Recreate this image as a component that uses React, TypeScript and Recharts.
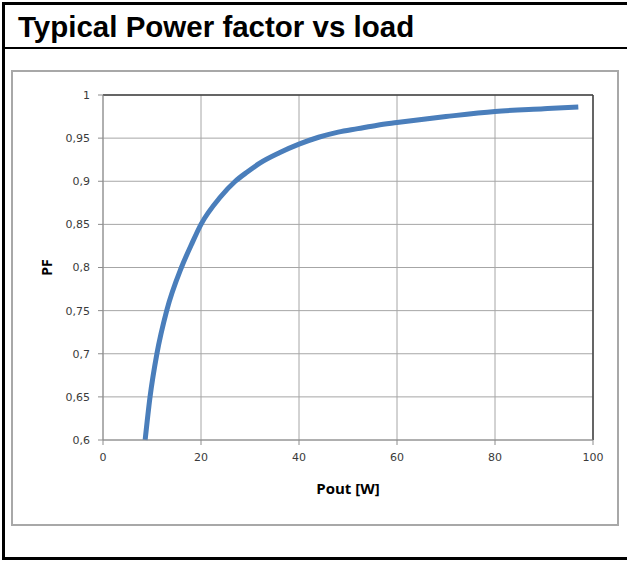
import React from 'react';
import { LineChart, Line, XAxis, YAxis, CartesianGrid, ReferenceLine, Label } from 'recharts';

const poutW = [8.6, 9.6, 11, 13, 16, 18, 20, 24, 27, 29.5, 32, 36, 40, 44, 48, 52, 56, 60, 70, 80, 90, 97];
const powerFactor = [0.6, 0.65, 0.7, 0.75, 0.8, 0.826, 0.85, 0.882, 0.9, 0.911, 0.921, 0.933, 0.943, 0.951, 0.957, 0.961, 0.965, 0.968, 0.975, 0.981, 0.984, 0.986];
const xTicks = [0, 20, 40, 60, 80, 100];
const yTicks = [0.6, 0.65, 0.7, 0.75, 0.8, 0.85, 0.9, 0.95, 1];
const titleText = 'Typical Power factor vs load';
const xLabel = 'Pout [W]';
const yLabel = 'PF';

const data = poutW.map((w, i) => ({ w, pf: powerFactor[i] }));

const fmt = (v: number) => String(Math.round(v * 100) / 100).replace('.', ',');

const tickFont = { fontFamily: 'DejaVu Sans', fontSize: 11, fill: '#3a3a3a' };

export default function App() {
  return (
    <div style={{ position: 'absolute', left: 0, top: 0, width: 627, height: 561, overflow: 'hidden', background: '#fff' }}>
      <div style={{ position: 'absolute', left: 2, top: 2, width: 660, height: 552, border: '3px solid #000' }} />
      <div style={{ position: 'absolute', left: 2, top: 47, width: 660, height: 2, background: '#000' }} />
      <div style={{ position: 'absolute', left: 18, top: 9, fontFamily: 'Liberation Sans', fontWeight: 'bold', fontSize: 29.5, lineHeight: '36px', color: '#000', whiteSpace: 'nowrap' }}>
        {titleText}
      </div>
      <div style={{ position: 'absolute', left: 11, top: 70, width: 604, height: 452, border: '2px solid #a8a8a8' }} />
      <div style={{ position: 'absolute', left: 0, top: 0 }}>
        <LineChart width={627} height={561} data={data} margin={{ top: 95, right: 34, bottom: 65, left: 43 }}>
          <CartesianGrid stroke="#a6a6a6" strokeWidth={1} />
          <XAxis
            dataKey="w"
            type="number"
            domain={[0, 100]}
            ticks={xTicks}
            interval={0}
            height={56}
            tickSize={5}
            tickMargin={8}
            stroke="#8c8c8c"
            tick={tickFont}
          >
            <Label
              content={({ viewBox }: any) => (
                <text x={viewBox.x + viewBox.width / 2} y={viewBox.y + 54} textAnchor="middle" fontFamily="Open Sans" fontWeight="bold" fontSize={15} fill="#000">
                  {xLabel}
                </text>
              )}
            />
          </XAxis>
          <YAxis
            type="number"
            domain={[0.6, 1]}
            ticks={yTicks}
            interval={0}
            width={60}
            tickSize={5}
            tickMargin={8}
            stroke="#8c8c8c"
            tick={tickFont}
            tickFormatter={fmt}
          >
            <Label
              content={({ viewBox }: any) => {
                const cx = viewBox.x + 9;
                const cy = viewBox.y + viewBox.height / 2;
                return (
                  <text x={cx} y={cy} transform={`rotate(-90 ${cx} ${cy})`} textAnchor="middle" fontFamily="Open Sans" fontWeight="bold" fontSize={14} fill="#000">
                    {yLabel}
                  </text>
                );
              }}
            />
          </YAxis>
          <ReferenceLine y={1} stroke="#404040" strokeWidth={1.5} />
          <ReferenceLine x={100} stroke="#404040" strokeWidth={1.5} />
          <Line type="monotone" dataKey="pf" stroke="#4a7ebb" strokeWidth={5} dot={false} isAnimationActive={false} />
        </LineChart>
      </div>
    </div>
  );
}
